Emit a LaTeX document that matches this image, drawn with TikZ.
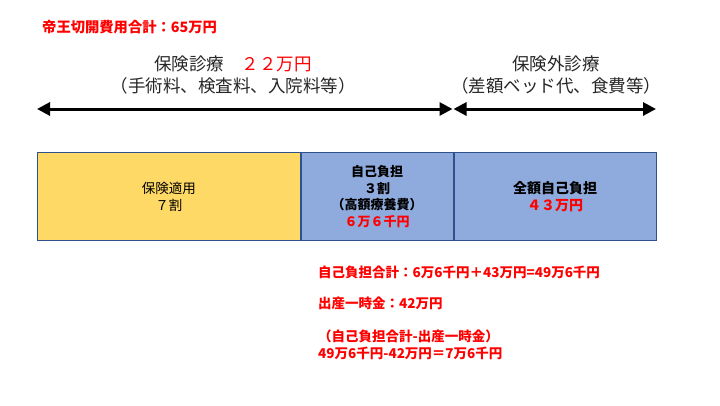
\documentclass[tikz,border=0pt]{standalone}
\usepackage{fontspec}
\setmainfont{Noto Sans CJK JP}
\usepackage{xcolor}
\definecolor{insyellow}{HTML}{FFD966}
\definecolor{selfblue}{HTML}{8FAADC}
\definecolor{boxedge}{HTML}{2F528F}
\definecolor{costred}{HTML}{FF0000}
\definecolor{textgray}{HTML}{262626}
\usetikzlibrary{arrows.meta,positioning}

\begin{document}
\begin{tikzpicture}[x=1pt,y=-1pt,
    box/.style={
        rectangle,
        draw=boxedge,
        line width=0.8pt,
        minimum height=88pt,
        inner sep=0pt,
        align=center,
        font=\fontsize{13.5}{17}\selectfont
    },
    arrow/.style={{Triangle[length=13pt,width=13pt]}-{Triangle[length=13pt,width=13pt]},line width=3pt},
    head/.style={align=center, text=textgray, font=\fontsize{17.5}{22}\selectfont},
    note/.style={anchor=west, inner sep=0pt, align=left, text=costred, font=\fontsize{13.5}{16.5}\selectfont\bfseries}
]
    \useasboundingbox (0,0) rectangle (720,405);

    % Cost boxes
    \node[box, fill=insyellow, minimum width=263pt, anchor=north west] (ins) at (37,152) {保険適用\\７割};
    \node[box, fill=selfblue, minimum width=152pt, right=0pt of ins, font=\fontsize{13}{16.7}\selectfont\bfseries] (copay) {自己負担\\３割\\（高額療養費）\\\textcolor{costred}{６万６千円}};
    \node[box, fill=selfblue, minimum width=202pt, right=0pt of copay, font=\fontsize{14}{17}\selectfont\bfseries] (full) {全額自己負担\\\textcolor{costred}{４３万円}};

    % Range arrows
    \coordinate (insL) at (37,109);
    \coordinate (insR) at (452.5,109);
    \coordinate (extL) at (453.5,109);
    \coordinate (extR) at (656,109);
    \draw[arrow] (insL) -- (insR);
    \draw[arrow] (extL) -- (extR);

    % Labels
    \node[head] (inslabel) at (233,75) {保険診療　\textcolor{costred}{２２万円}\\（手術料、検査料、入院料等）};
    \node[head] (extlabel) at (556,75) {保険外診療\\（差額ベッド代、食費等）};
    \node[note, font=\fontsize{14.3}{16.5}\selectfont\bfseries] (title) at (42,27) {帝王切開費用合計：65万円};
    \node[note] (total) at (318,272) {自己負担合計：6万6千円＋43万円=49万6千円};
    \node[note] (grant) at (318,303) {出産一時金：42万円};
    \node[note] (diff) at (318,345) {（自己負担合計-出産一時金）\\49万6千円-42万円＝7万6千円};
\end{tikzpicture}
\end{document}
